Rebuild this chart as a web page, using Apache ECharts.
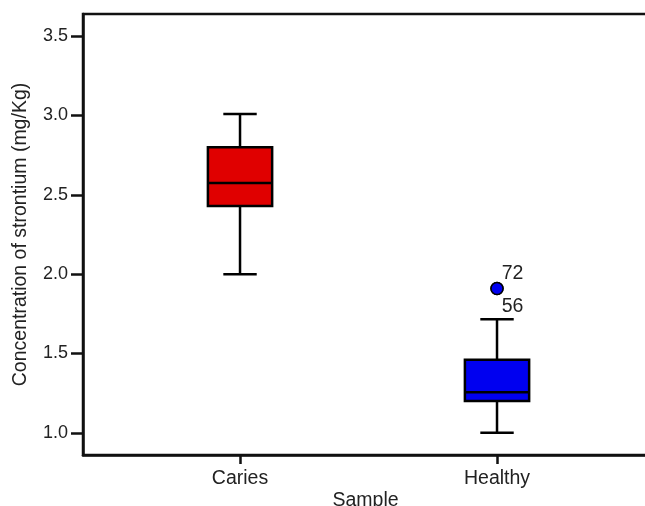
<!DOCTYPE html>
<html>
<head>
<meta charset="utf-8">
<script src="https://cdn.jsdelivr.net/npm/echarts@6/dist/echarts.min.js"></script>
<style>html,body{margin:0;padding:0;background:#fff}#c{width:645px;height:506px}</style>
</head>
<body>
<div id="c"></div>
<script>
// Data
var categories = ['Caries', 'Healthy'];
var boxMin = [2.00, 1.00];
var boxQ1 = [2.43, 1.20];
var boxMedian = [2.575, 1.255];
var boxQ3 = [2.80, 1.46];
var boxMax = [3.01, 1.715];
var outlierCategory = ['Healthy', 'Healthy'];
var outlierValues = [1.91, 1.91];
var outlierLabels = ['72', '56'];
var yTicks = [1.0, 1.5, 2.0, 2.5, 3.0, 3.5];
var boxColors = ['#E00000', '#0000F0'];

var font = 'Liberation Sans, Arial, Helvetica, sans-serif';
var boxData = categories.map(function (c, i) {
  return [i + 1, boxMin[i], boxQ1[i], boxMedian[i], boxQ3[i], boxMax[i]];
});
var outData = outlierValues.map(function (v, i) {
  return {
    value: [categories.indexOf(outlierCategory[i]) + 1, v],
    label: {
      show: true,
      formatter: outlierLabels[i],
      position: 'right',
      distance: 0,
      offset: i === 0 ? [-2, -15] : [-2, 18],
      color: '#222',
      fontSize: 19.5,
      fontFamily: font
    }
  };
});

var chart = echarts.init(document.getElementById('c'), null, {renderer: 'canvas'});
chart.setOption({
  animation: false,
  backgroundColor: '#fff',
  grid: {left: 83, right: -3, top: 14, bottom: 51, outerBoundsMode: 'none', containLabel: false,
    show: true, borderColor: '#111', borderWidth: 2.5, backgroundColor: 'transparent'},
  xAxis: {
    type: 'value',
    min: 0.389,
    max: 2.5875,
    name: 'Sample',
    nameLocation: 'middle',
    nameGap: 36,
    nameMoveOverlap: false,
    nameTextStyle: {color: '#222', fontSize: 19.5, fontFamily: font},
    splitLine: {show: false},
    axisLine: {show: true, onZero: false, lineStyle: {color: '#111', width: 2.5}},
    axisTick: {show: true, customValues: [1, 2], length: 9, lineStyle: {color: '#111', width: 2.5}},
    axisLabel: {
      customValues: [1, 2],
      margin: 14,
      color: '#222', fontSize: 19.5, fontFamily: font,
      formatter: function (v) { return categories[Math.round(v) - 1] || ''; }
    }
  },
  yAxis: {
    type: 'value',
    min: 0.86,
    max: 3.64,
    name: 'Concentration of strontium (mg/Kg)',
    nameLocation: 'middle',
    nameGap: 52,
    nameMoveOverlap: false,
    nameTextStyle: {color: '#222', fontSize: 19.5, fontFamily: font},
    splitLine: {show: false},
    axisLine: {show: true, onZero: false, lineStyle: {color: '#111', width: 2.5}},
    axisTick: {show: true, customValues: yTicks, length: 12, lineStyle: {color: '#111', width: 2.5}},
    axisLabel: {
      customValues: yTicks,
      margin: 15,
      color: '#222', fontSize: 18, fontFamily: font,
      formatter: function (v) { return v.toFixed(1); }
    }
  },
  series: [
    {
      type: 'custom',
      data: boxData,
      encode: {x: 0, y: [1, 2, 3, 4, 5]},
      renderItem: function (params, api) {
        var x = api.value(0);
        var pMin = api.coord([x, api.value(1)]);
        var pQ1 = api.coord([x, api.value(2)]);
        var pMed = api.coord([x, api.value(3)]);
        var pQ3 = api.coord([x, api.value(4)]);
        var pMax = api.coord([x, api.value(5)]);
        var bw = api.size([0.25, 0])[0];
        var cw = api.size([0.13, 0])[0];
        var cx = pMin[0];
        var ls = {stroke: '#000', lineWidth: 2.5};
        return {
          type: 'group',
          children: [
            {type: 'line', shape: {x1: cx, y1: pMax[1], x2: cx, y2: pQ3[1]}, style: ls},
            {type: 'line', shape: {x1: cx, y1: pQ1[1], x2: cx, y2: pMin[1]}, style: ls},
            {type: 'line', shape: {x1: cx - cw / 2, y1: pMax[1], x2: cx + cw / 2, y2: pMax[1]}, style: ls},
            {type: 'line', shape: {x1: cx - cw / 2, y1: pMin[1], x2: cx + cw / 2, y2: pMin[1]}, style: ls},
            {type: 'rect', shape: {x: cx - bw / 2, y: pQ3[1], width: bw, height: pQ1[1] - pQ3[1]},
              style: {fill: boxColors[params.dataIndex], stroke: '#000', lineWidth: 2.5}},
            {type: 'line', shape: {x1: cx - bw / 2, y1: pMed[1], x2: cx + bw / 2, y2: pMed[1]}, style: ls}
          ]
        };
      }
    },
    {
      type: 'scatter',
      data: outData,
      symbol: 'circle',
      symbolSize: 12,
      itemStyle: {color: '#0000F0', borderColor: '#000', borderWidth: 1.5, opacity: 1},
      z: 5
    }
  ]
});
</script>
</body>
</html>
